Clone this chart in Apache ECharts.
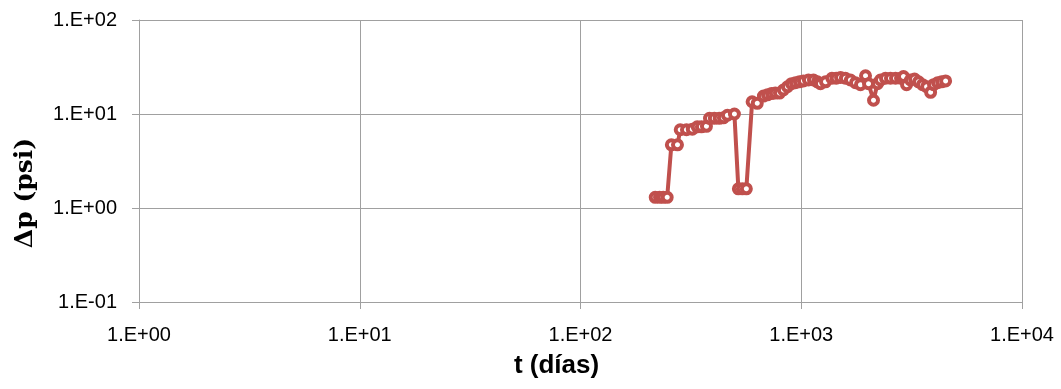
<!DOCTYPE html>
<html>
<head>
<meta charset="utf-8">
<script src="https://cdn.jsdelivr.net/npm/echarts@6/dist/echarts.min.js"></script>
<style>
html,body{margin:0;padding:0;background:#fff;}
#chart{width:1061px;height:389px;}
</style>
</head>
<body>
<div id="chart"></div>
<script>
// time (days)
var tDays = [218, 228, 237, 247, 258, 275, 283, 302, 321, 338, 353, 372, 384, 404, 425, 444, 463, 498,
  519, 541, 564, 599, 632, 674, 703, 733, 763, 797, 830, 866, 903, 941, 981, 1023, 1078, 1136, 1184,
  1222, 1288, 1377, 1440, 1507, 1585, 1671, 1761, 1855, 1955, 2017, 2125, 2215, 2285, 2408, 2537,
  2673, 2817, 2905, 2999, 3125, 3260, 3400, 3545, 3697, 3855, 3975, 4145, 4323, 4508];
// pressure drop (psi)
var deltaP = [1.3, 1.3, 1.3, 1.3, 4.7, 4.7, 6.8, 6.8, 6.9, 7.3, 7.3, 7.4, 9.0, 9.0, 9.0, 9.1, 9.7, 10.0,
  1.6, 1.6, 1.6, 13.5, 13.0, 15.5, 16.0, 16.5, 16.7, 16.7, 18.0, 19.5, 21.0, 21.5, 22.0, 22.5, 23.0, 23.0, 22.0,
  21.0, 22.0, 24.0, 24.0, 24.5, 24.0, 23.0, 21.5, 20.5, 25.5, 21.0, 14.0, 21.0, 23.0, 24.0, 24.0,
  24.0, 24.0, 25.0, 20.5, 23.0, 23.5, 22.0, 20.5, 19.5, 17.0, 20.5, 21.5, 22.0, 22.5];
var xTicks = [1, 10, 100, 1000, 10000];
var yTicks = [0.1, 1, 10, 100];

function sci(v) {
  var e = Math.round(Math.log(v) / Math.LN10);
  var s = e < 0 ? '-' : '+';
  var a = Math.abs(e);
  return '1.E' + s + (a < 10 ? '0' : '') + a;
}

var pts = tDays.map(function (t, i) { return [t, deltaP[i]]; });
var chart = echarts.init(document.getElementById('chart'), null, {renderer: 'canvas'});
var red = '#C0504D';
var gridC = '#A0A0A0';
chart.setOption({
  animation: false,
  backgroundColor: '#fff',
  grid: {left: 139, right: 39, top: 20, bottom: 87, containLabel: false},
  xAxis: {
    type: 'log', logBase: 10, min: xTicks[0], max: xTicks[xTicks.length - 1], interval: 1,
    name: 't (días)', nameLocation: 'middle', nameGap: 51,
    nameTextStyle: {fontFamily: "'Liberation Sans',Arial,sans-serif", fontWeight: 'bold', fontSize: 26, color: '#000', padding: [0, 48, 0, 0]},
    axisLine: {show: true, lineStyle: {color: gridC, width: 1}},
    axisTick: {show: true, inside: false, length: 7, lineStyle: {color: gridC}},
    minorTick: {show: false},
    splitLine: {show: true, lineStyle: {color: gridC, width: 1}},
    axisLabel: {formatter: sci, fontFamily: "'Liberation Sans',Arial,sans-serif", fontSize: 20, color: '#000', margin: 23}
  },
  yAxis: {
    type: 'log', logBase: 10, min: yTicks[0], max: yTicks[yTicks.length - 1], interval: 1,
    name: 'Δp (psi)', nameLocation: 'middle', nameGap: 101, nameRotate: 90,
    nameTextStyle: {fontFamily: "'DejaVu Serif','Liberation Serif',serif", fontWeight: 'bold', fontSize: 25, color: '#000', padding: [0, 64, 0, 0]},
    axisLine: {show: true, lineStyle: {color: gridC, width: 1}},
    axisTick: {show: true, inside: false, length: 7, lineStyle: {color: gridC}},
    minorTick: {show: false},
    splitLine: {show: true, lineStyle: {color: gridC, width: 1}},
    axisLabel: {formatter: sci, fontFamily: "'Liberation Sans',Arial,sans-serif", fontSize: 20, color: '#000', margin: 22}
  },
  series: [{
    type: 'line',
    data: pts,
    symbol: 'circle',
    symbolSize: 9,
    showAllSymbol: true,
    lineStyle: {color: red, width: 4},
    itemStyle: {color: '#fff', borderColor: red, borderWidth: 4},
    z: 5
  }]
});
</script>
</body>
</html>
